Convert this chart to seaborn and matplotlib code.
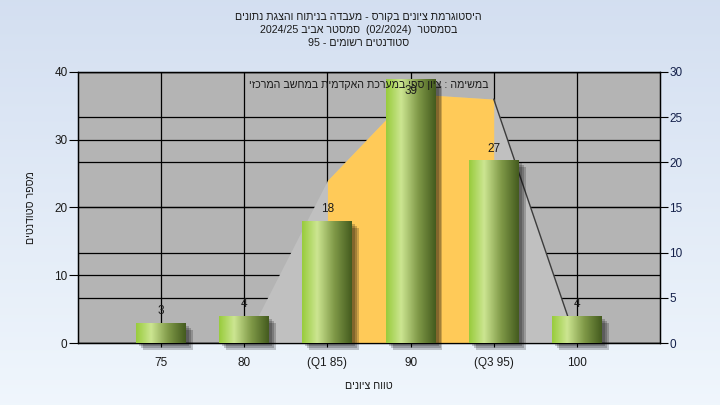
import re
import numpy as np
import matplotlib
matplotlib.use("Agg")
import matplotlib.pyplot as plt
from matplotlib.patches import Rectangle
from matplotlib.colors import LinearSegmentedColormap
import seaborn as sns

sns.set_style("white")
plt.rcParams['font.family'] = ['Liberation Sans', 'DejaVu Sans']

# data
scores = ["75", "80", "(Q1 85)", "90", "(Q3 95)", "100"]
counts = [3, 4, 18, 39, 27, 4]

# background area (right axis), same positions as the categories
area_x = [1, 2, 3, 4, 5]
area_y = [0, 18, 27.6, 27, 0]
iqr_x = [2, 3, 4]
iqr_y = [18, 27.6, 27]

title_lines = [
    "היסטוגרמת ציונים בקורס - מעבדה בניתוח והצגת נתונים",
    "בסמסטר  (02/2024)  סמסטר אביב 2024/25",
    "סטודנטים רשומים - 95",
]
note = "במשימה : ציון ספי במערכת האקדמית במחשב המרכזי"
xlab = "טווח ציונים"
ylab = "מספר סטודנטים"


def rtl(s):
    # matplotlib has no bidi, so turn logical order into visual order
    r = s[::-1]
    r = re.sub(r'[0-9A-Za-z/.]+', lambda m: m.group(0)[::-1], r)
    return r.translate(str.maketrans('()', ')('))


fig = plt.figure(figsize=(7.2, 4.05), dpi=100)

# figure background gradient
bg = fig.add_axes([0, 0, 1, 1], zorder=-5)
top_c = np.array([0.83, 0.875, 0.945])
bot_c = np.array([0.94, 0.965, 0.99])
t = np.linspace(0, 1, 256)[:, None]
grad = top_c[None, None, :] * (1 - t[:, :, None]) + bot_c[None, None, :] * t[:, :, None]
bg.imshow(np.repeat(grad, 4, axis=1), aspect='auto', extent=[0, 1, 0, 1])
bg.axis('off')

rect = [78 / 720, 1 - 343 / 405, (660 - 78) / 720, (343 - 72) / 405]
tick_col = "#1a1a1a"
heb_size = 7.7

# lower layer: grey plot area, grid, right axis
ax_r = fig.add_axes(rect, zorder=0)
ax_r.set_facecolor("#b4b4b4")
ax_r.set_xlim(-1, 6)
ax_r.set_ylim(0, 30)
ax_r.set_xticks(range(0, 6))
ax_r.set_yticks(range(0, 31, 5))
ax_r.yaxis.tick_right()
ax_r.tick_params(axis='x', length=0, labelbottom=False)
ax_r.tick_params(axis='y', direction='out', length=5.8, width=0.8, pad=1,
                 labelsize=8.5, labelcolor="#14204a", color='black')
ax_r.grid(True, color='black', lw=0.9)
for s in ax_r.spines.values():
    s.set_color('black')
    s.set_linewidth(0.9)

# upper layer: left axis, area, bars
ax = fig.add_axes(rect, zorder=1)
ax.patch.set_visible(False)
ax.set_axisbelow(True)
ax.grid(True, axis='y', color='black', lw=0.9)
ax.grid(False, axis='x')

tr = ax_r.transData
ax.fill_between(area_x, area_y, color="#c0c0c0", lw=0, transform=tr, zorder=1)
ax.fill_between(iqr_x, iqr_y, color="#ffca58", lw=0, transform=tr, zorder=1.1)
ax.plot(area_x[-2:], area_y[-2:], color="#3c3c3c", lw=1, transform=tr, zorder=1.2)

sns.barplot(x=scores, y=counts, ax=ax, color="#9ccc48", width=0.6,
            saturation=1, linewidth=0, zorder=3)

cmap = LinearSegmentedColormap.from_list("bar", [
    (0.0, (0.6, 0.8, 0.24)),
    (0.3, (0.8, 0.9, 0.57)),
    (0.65, (0.5, 0.6, 0.28)),
    (1.0, (0.27, 0.36, 0.12)),
])
gx = np.linspace(0, 1, 64)[None, :]
for p in list(ax.patches):
    x0, w, h = p.get_x(), p.get_width(), p.get_height()
    for i in range(3):
        dx = 0.036 + 0.024 * i
        dy = 0.44 + 0.3 * i
        ax.add_patch(Rectangle((x0 + dx, -dy), w, h, color='black', alpha=0.2,
                               lw=0, zorder=2.5, clip_on=False))
    im = ax.imshow(np.repeat(gx, 2, axis=0), cmap=cmap, aspect='auto',
                   extent=[x0, x0 + w, 0, h], zorder=3.1, interpolation='bilinear')
    im.set_clip_path(p)

bars = ax.containers[0]
top_room = 36
ax.bar_label(bars, labels=[str(c) if c < top_room else "" for c in counts],
             padding=4, fontsize=8.5, color=tick_col, zorder=5)
ax.bar_label(bars, labels=[str(c) if c >= top_room else "" for c in counts],
             padding=-13, fontsize=8.5, color=tick_col, zorder=5)

ax.set_xlim(-1, 6)
ax.set_ylim(0, 40)
ax.set_yticks(range(0, 41, 10))
ax.set_xticks(range(len(scores)))
ax.set_xticklabels(scores)
ax.tick_params(axis='y', direction='out', length=6.5, width=0.8, pad=1,
               labelsize=8.5, labelcolor=tick_col, color='black', left=True)
ax.tick_params(axis='x', direction='out', length=3, width=0.8, pad=7,
               labelsize=8.5, labelcolor=tick_col, color='black', bottom=True)
for s in ax.spines.values():
    s.set_color('black')
    s.set_linewidth(0.9)

ax.set_xlabel(rtl(xlab), fontsize=heb_size, color=tick_col, labelpad=9)
ax.set_ylabel(rtl(ylab), fontsize=heb_size, color=tick_col, labelpad=13)

ax.text(0.5, 0.952, rtl(note), transform=ax.transAxes, ha='center', va='center',
        fontsize=heb_size, color=tick_col, zorder=6)

for line, y in zip(title_lines, [17, 30, 43]):
    fig.text(0.498, 1 - y / 405, rtl(line), ha='center', va='center',
             fontsize=heb_size, color=tick_col)

fig.savefig("out.png", dpi=100)
